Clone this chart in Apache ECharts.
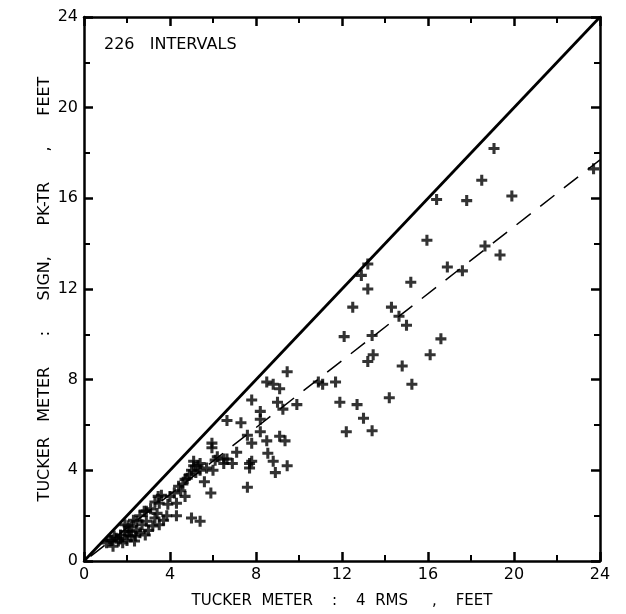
<!DOCTYPE html>
<html>
<head>
<meta charset="utf-8">
<script src="https://cdn.jsdelivr.net/npm/echarts@6/dist/echarts.min.js"></script>
<style>html,body{margin:0;padding:0;background:#fff}#c{width:626px;height:614px}</style>
</head>
<body>
<div id="c"></div>
<script>
// Data
const xTitle = 'TUCKER  METER    :    4  RMS     ,    FEET';
const yTitle = 'TUCKER   METER      :      SIGN,      PK-TR      ,      FEET';
const noteText = '226   INTERVALS';
const axisMin = 0, axisMax = 24, axisStep = 4;
const equalityLine = [[0, 0], [24, 24]];
const fitLine = [[0.3, 0.2], [24, 17.7]];
const points = [
  [1.05,0.8],[1.2,0.9],[1.35,0.65],[1.6,0.88],[1.7,1.15],[1.8,0.8],[2.0,0.9],[2.05,1.15],[2.05,1.55],
  [2.2,1.1],[2.35,0.88],[2.45,1.35],[2.45,1.75],[2.6,1.25],[2.85,1.15],[2.9,1.75],[2.9,2.2],[3.0,1.35],
  [3.2,1.55],[3.4,2.1],[3.45,2.85],[3.5,1.6],[3.5,2.55],[3.7,1.8],[3.85,2.0],[4.0,2.85],[4.2,3.0],
  [4.3,2.0],[4.3,2.55],[4.6,3.4],[4.7,2.85],[4.8,3.65],[5.0,1.9],[5.4,1.75],[5.1,4.2],[5.4,4.3],
  [5.4,4.0],[5.6,3.5],[5.9,3.0],[1.5,1.0],[1.9,1.3],[2.7,1.6],[3.1,2.3],[3.3,1.9],[2.2,1.5],[1.4,1.1],
  [2.6,2.0],[3.9,2.5],[4.5,3.1],[4.9,3.8],[5.0,4.0],[5.2,3.9],
  [4.4,3.3],[4.7,3.6],[5.1,4.4],[5.3,4.2],[5.7,4.1],[6.2,4.6],[3.6,2.9],[3.3,2.6],[2.8,2.2],
  [2.3,1.8],[1.9,1.6],[1.3,0.9],[1.7,1.0],[2.4,1.1],[2.1,1.3],
  [5.95,5.2],[5.95,5.0],[6.0,4.0],[6.1,4.45],[6.5,4.3],[6.5,4.5],[6.65,6.2],[6.65,4.5],[6.9,4.3],
  [7.1,4.8],[7.3,6.1],[7.6,5.55],[7.6,3.25],[7.7,4.3],[7.7,4.1],[7.8,7.1],[7.8,5.2],[7.8,4.4],
  [8.2,6.6],[8.2,6.25],[8.2,5.7],[8.5,7.9],[8.5,5.3],[8.55,4.75],[8.8,4.4],[8.8,7.8],[8.9,3.9],
  [9.0,7.0],[9.1,7.6],[9.1,5.5],[9.25,6.7],[9.35,5.3],[9.45,8.35],[9.45,4.2],[9.9,6.9],
  [10.9,7.9],[11.1,7.8],[11.7,7.9],[11.9,7.0],[12.1,9.9],[12.2,5.7],[12.5,11.2],[12.7,6.9],[12.9,12.6],
  [13.0,6.3],[13.2,13.1],[13.2,12.0],[13.2,8.8],[13.4,9.95],[13.45,9.1],[13.4,5.75],[14.2,7.2],
  [14.3,11.2],[14.65,10.8],[14.8,8.6],[15.0,10.4],[15.2,12.3],[15.25,7.8],[15.95,14.15],[16.1,9.1],
  [16.4,15.95],[16.6,9.8],[16.9,12.97],[17.6,12.8],[17.8,15.9],[18.5,16.8],[18.65,13.9],[19.07,18.2],
  [19.35,13.5],[19.9,16.1],[23.7,17.3]
];

const FONT = 'DejaVu Sans';
const plus = 'path://M3.6,0H6.4V3.6H10V6.4H6.4V10H3.6V6.4H0V3.6H3.6Z';
const chart = echarts.init(document.getElementById('c'), null, {renderer: 'canvas'});

function axisBase(pos, showLabels) {
  return {
    type: 'value', min: axisMin, max: axisMax, interval: axisStep, position: pos,
    axisLine: {show: true, onZero: false, lineStyle: {color: '#000', width: 2.5}},
    axisTick: {show: true, inside: true, length: 9, lineStyle: {color: '#000', width: 2.5}},
    minorTick: {show: true, splitNumber: 2, length: 6, lineStyle: {color: '#000', width: 2}},
    splitLine: {show: false},
    axisLabel: {show: showLabels, color: '#000', fontFamily: FONT, fontSize: 16, margin: 6}
  };
}

const xBottom = Object.assign(axisBase('bottom', true), {
  name: xTitle, nameLocation: 'middle', nameGap: 33, nameMoveOverlap: false,
  nameTextStyle: {color: '#000', fontFamily: FONT, fontSize: 15}
});
const yLeft = Object.assign(axisBase('left', true), {
  name: yTitle, nameLocation: 'middle', nameGap: 31, nameMoveOverlap: false,
  nameTextStyle: {color: '#000', fontFamily: FONT, fontSize: 16}
});

chart.setOption({
  backgroundColor: '#fff',
  animation: false,
  grid: {left: 84, right: 26, top: 17, bottom: 51},
  xAxis: [xBottom, axisBase('top', false)],
  yAxis: [yLeft, axisBase('right', false)],
  graphic: [{
    type: 'text', left: 104, top: 37,
    style: {text: noteText, fill: '#000', font: '16px "DejaVu Sans"'}
  }],
  series: [
    {type: 'line', data: equalityLine, symbol: 'none', lineStyle: {color: '#000', width: 2.8}},
    {type: 'line', data: fitLine, symbol: 'none', lineStyle: {color: '#000', width: 1.5, type: [18, 12]}},
    {type: 'scatter', data: points, symbol: plus, symbolSize: 11, itemStyle: {color: '#000'}}
  ]
});
</script>
</body>
</html>
